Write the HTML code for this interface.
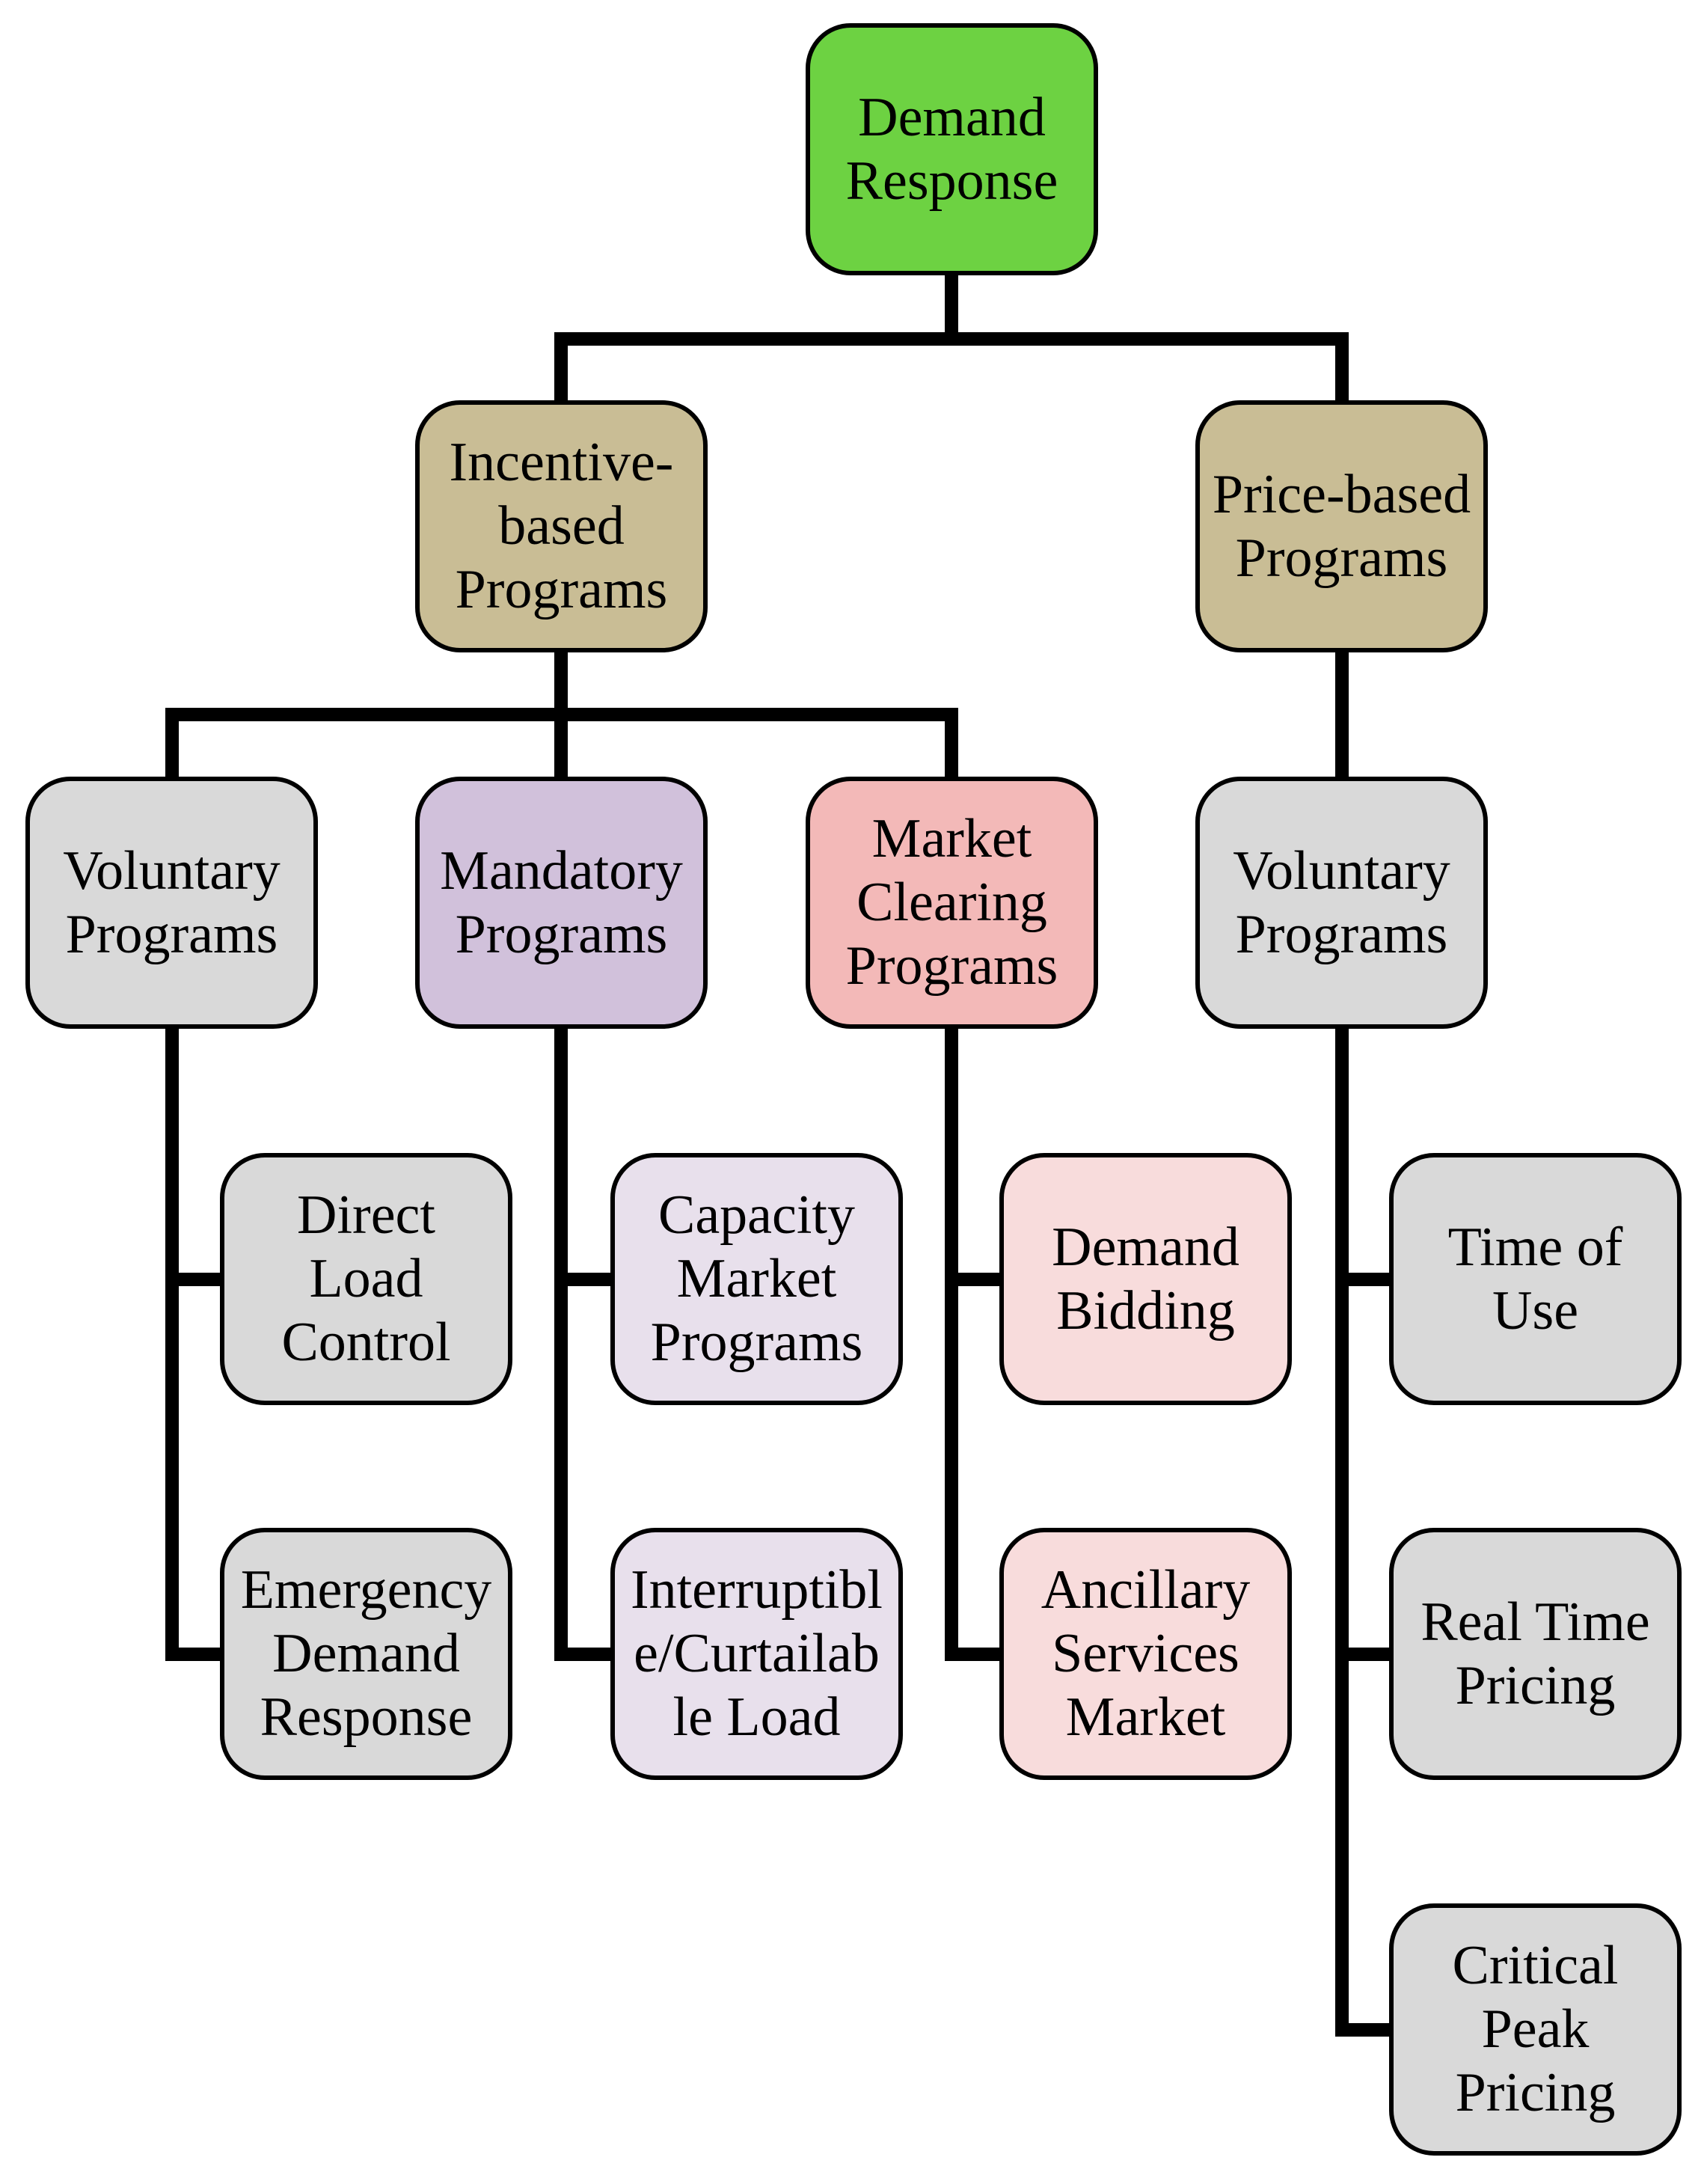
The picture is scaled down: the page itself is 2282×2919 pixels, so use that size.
<!DOCTYPE html>
<html><head><style>
body{margin:0;width:2282px;height:2919px;background:#fff;position:relative;overflow:hidden;font-family:"Liberation Serif",serif;}
.b{position:absolute;width:379px;height:325px;border:6px solid #000;border-radius:60px;display:flex;align-items:center;justify-content:center;text-align:center;font-size:74px;line-height:85px;color:#000;}
.l{position:absolute;background:#000;}
</style></head><body>
<div class="l" style="left:1263px;top:368px;width:18px;height:94px"></div>
<div class="l" style="left:741px;top:444px;width:1062px;height:18px"></div>
<div class="l" style="left:741px;top:444px;width:18px;height:95px"></div>
<div class="l" style="left:1785px;top:444px;width:18px;height:95px"></div>
<div class="l" style="left:741px;top:870px;width:18px;height:170px"></div>
<div class="l" style="left:221px;top:946px;width:1060px;height:18px"></div>
<div class="l" style="left:221px;top:946px;width:18px;height:95px"></div>
<div class="l" style="left:1263px;top:946px;width:18px;height:95px"></div>
<div class="l" style="left:1785px;top:870px;width:18px;height:170px"></div>
<div class="l" style="left:221px;top:1374px;width:18px;height:846px"></div>
<div class="l" style="left:221px;top:1701px;width:78px;height:18px"></div>
<div class="l" style="left:221px;top:2202px;width:78px;height:18px"></div>
<div class="l" style="left:741px;top:1374px;width:18px;height:846px"></div>
<div class="l" style="left:741px;top:1701px;width:80px;height:18px"></div>
<div class="l" style="left:741px;top:2202px;width:80px;height:18px"></div>
<div class="l" style="left:1263px;top:1374px;width:18px;height:846px"></div>
<div class="l" style="left:1263px;top:1701px;width:78px;height:18px"></div>
<div class="l" style="left:1263px;top:2202px;width:78px;height:18px"></div>
<div class="l" style="left:1785px;top:1374px;width:18px;height:1348px"></div>
<div class="l" style="left:1785px;top:1701px;width:78px;height:18px"></div>
<div class="l" style="left:1785px;top:2202px;width:78px;height:18px"></div>
<div class="l" style="left:1785px;top:2704px;width:78px;height:18px"></div>
<div class="b" style="left:1077px;top:31px;background:#6dd242">Demand<br>Response</div>
<div class="b" style="left:555px;top:535px;background:#c9bd95">Incentive-<br>based<br>Programs</div>
<div class="b" style="left:1598px;top:535px;background:#c9bd95">Price-based<br>Programs</div>
<div class="b" style="left:34px;top:1038px;background:#d9d9d9">Voluntary<br>Programs</div>
<div class="b" style="left:555px;top:1038px;background:#d1c1db">Mandatory<br>Programs</div>
<div class="b" style="left:1077px;top:1038px;background:#f3b9b8">Market<br>Clearing<br>Programs</div>
<div class="b" style="left:1598px;top:1038px;background:#d9d9d9">Voluntary<br>Programs</div>
<div class="b" style="left:294px;top:1541px;background:#d9d9d9">Direct<br>Load<br>Control</div>
<div class="b" style="left:816px;top:1541px;background:#e8e0ec">Capacity<br>Market<br>Programs</div>
<div class="b" style="left:1336px;top:1541px;background:#f8dcdc">Demand<br>Bidding</div>
<div class="b" style="left:1857px;top:1541px;background:#d9d9d9">Time of<br>Use</div>
<div class="b" style="left:294px;top:2042px;background:#d9d9d9">Emergency<br>Demand<br>Response</div>
<div class="b" style="left:816px;top:2042px;background:#e8e0ec">Interruptibl<br>e/Curtailab<br>le Load</div>
<div class="b" style="left:1336px;top:2042px;background:#f8dcdc">Ancillary<br>Services<br>Market</div>
<div class="b" style="left:1857px;top:2042px;background:#d9d9d9">Real Time<br>Pricing</div>
<div class="b" style="left:1857px;top:2544px;background:#d9d9d9">Critical<br>Peak<br>Pricing</div>
</body></html>
